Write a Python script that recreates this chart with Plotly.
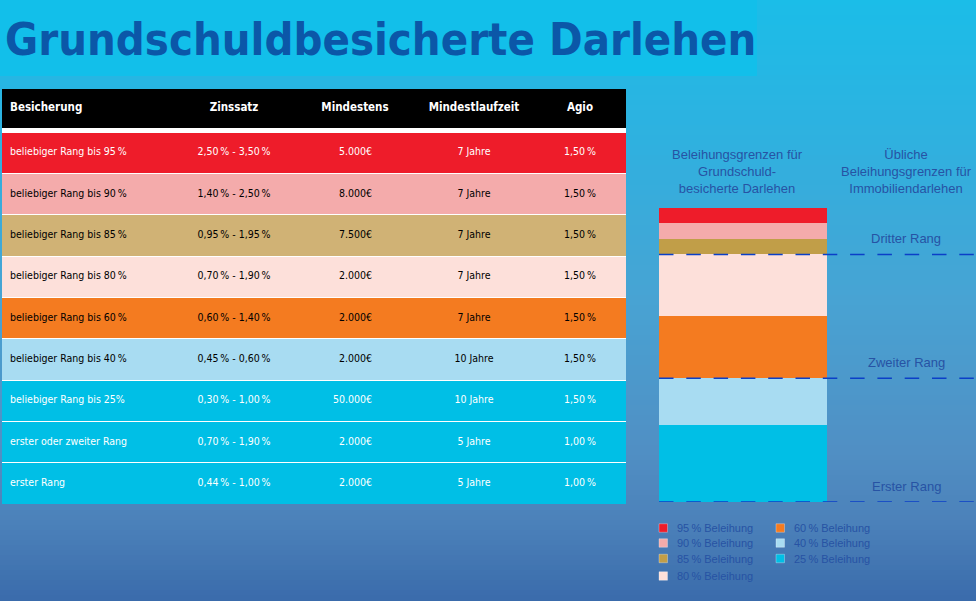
import plotly.graph_objects as go

W, H = 976, 601

# ---------------- data ----------------
title_text = "Grundschuldbesicherte Darlehen"
columns = ["Besicherung", "Zinssatz", "Mindestens", "Mindestlaufzeit", "Agio"]
besicherung = ["beliebiger Rang bis 95\u2009%", "beliebiger Rang bis 90\u2009%", "beliebiger Rang bis 85\u2009%",
               "beliebiger Rang bis 80\u2009%", "beliebiger Rang bis 60\u2009%", "beliebiger Rang bis 40\u2009%",
               "beliebiger Rang bis 25%", "erster oder zweiter Rang", "erster Rang"]
zinssatz = ["2,50\u2009% - 3,50\u2009%", "1,40\u2009% - 2,50\u2009%", "0,95\u2009% - 1,95\u2009%",
            "0,70\u2009% - 1,90\u2009%", "0,60\u2009% - 1,40\u2009%", "0,45\u2009% - 0,60\u2009%",
            "0,30\u2009% - 1,00\u2009%", "0,70\u2009% - 1,90\u2009%", "0,44\u2009% - 1,00\u2009%"]
mindestens = ["5.000€", "8.000€", "7.500€", "2.000€", "2.000€", "2.000€", "50.000€", "2.000€", "2.000€"]
laufzeit = ["7 Jahre", "7 Jahre", "7 Jahre", "7 Jahre", "7 Jahre", "10 Jahre", "10 Jahre", "5 Jahre", "5 Jahre"]
agio = ["1,50\u2009%", "1,50\u2009%", "1,50\u2009%", "1,50\u2009%", "1,50\u2009%", "1,50\u2009%", "1,50\u2009%",
        "1,00\u2009%", "1,00\u2009%"]

beleihung_levels = [25, 40, 60, 80, 85, 90, 95]
legend_labels = ["25\u2009% Beleihung", "40\u2009% Beleihung", "60\u2009% Beleihung", "80\u2009% Beleihung",
                 "85\u2009% Beleihung", "90\u2009% Beleihung", "95\u2009% Beleihung"]
rang_names = ["Erster Rang", "Zweiter Rang", "Dritter Rang"]
rang_starts = [0, 40, 80]
heading_left = "Beleihungsgrenzen für<br>Grundschuld-<br>besicherte Darlehen"
heading_right = "Übliche<br>Beleihungsgrenzen für<br>Immobiliendarlehen"

# ---------------- styles ----------------
row_colors = ["#EE1C2A", "#F4ABAB", "#D0B275", "#FDE0DA", "#F47B20", "#A8DCF2", "#00BFE6", "#00BFE6", "#00BFE6"]
row_text_colors = ["white", "black", "black", "black", "black", "black", "white", "white", "white"]
level_colors = ["#00BFE6", "#A8DCF2", "#F47B20", "#FDE0DA", "#C19E48", "#F4ABAB", "#EE1C2A"]
NARROW = "DejaVu Sans Condensed, Liberation Sans Narrow, Arial Narrow, sans-serif"
TXT = "Liberation Sans, Arial, sans-serif"
BLUE_TXT = "#2753A4"


def px(x):
    return x / W


def py(y):
    return 1 - y / H


fig = go.Figure()
shapes = []
annotations = []

# background gradient
stops = [(0, (27, 189, 232)), (150, (48, 176, 223)), (300, (72, 163, 211)),
         (450, (80, 143, 196)), (520, (76, 130, 186)), (601, (58, 107, 171))]


def bg_color(y):
    for (y0, c0), (y1, c1) in zip(stops[:-1], stops[1:]):
        if y0 <= y <= y1:
            t = (y - y0) / (y1 - y0)
            return "rgb(%d,%d,%d)" % tuple(round(a + (b - a) * t) for a, b in zip(c0, c1))
    return "rgb(%d,%d,%d)" % stops[-1][1]


band = 5
for yb in range(0, H, band):
    shapes.append(dict(type="rect", xref="paper", yref="paper", x0=0, x1=1,
                       y0=py(min(yb + band + 1, H)), y1=py(yb), fillcolor=bg_color(yb + band / 2),
                       line=dict(width=0), layer="below"))

# title box
shapes.append(dict(type="rect", xref="paper", yref="paper", x0=0, x1=px(757), y0=py(76), y1=1,
                   fillcolor="#12BFEA", line=dict(width=0), layer="below"))
annotations.append(dict(text="<b>%s</b>" % title_text, xref="paper", yref="paper", x=px(3), y=py(40),
                        xanchor="left", yanchor="middle", showarrow=False,
                        font=dict(family=NARROW, size=45, color="#0B57A8")))

# ---------------- table (pixel-unit axes) ----------------
T_TOP, HEAD_BOT, ROW_TOP, T_BOT = 89, 128, 132, 504
n = len(besicherung)
pitch = (T_BOT - ROW_TOP) / n
row_centers = [ROW_TOP + pitch * (i + 0.5) for i in range(n)]
head_center = (T_TOP + HEAD_BOT) / 2
T_W = 624

shapes.append(dict(type="rect", xref="x2", yref="y2", x0=0, x1=T_W, y0=HEAD_BOT, y1=T_BOT,
                   fillcolor="white", line=dict(width=0), layer="below"))

fig.add_trace(go.Bar(orientation="h", y=[head_center] + row_centers, x=[T_W] * (n + 1), base=0,
                     width=[HEAD_BOT - T_TOP] + [pitch - 1] * n,
                     marker=dict(color=["black"] + row_colors, line=dict(width=0)),
                     xaxis="x2", yaxis="y2", showlegend=False, hoverinfo="skip"))

col_x = [8, 232, 353, 472, 578]
head_pos = ["middle right", "middle center", "middle center", "middle center", "middle center"]
fig.add_trace(go.Scatter(x=col_x, y=[head_center] * 5, text=["<b>%s</b>" % c for c in columns],
                         mode="text", textposition=head_pos,
                         textfont=dict(family=NARROW, size=11.5, color="white"),
                         xaxis="x2", yaxis="y2", showlegend=False, hoverinfo="skip"))

body_cols = [besicherung, zinssatz, mindestens, laufzeit, agio]
body_x = [8, 232, 370, 472, 578]
body_pos = ["middle right", "middle center", "middle left", "middle center", "middle center"]
for vals, xx, pos in zip(body_cols, body_x, body_pos):
    fig.add_trace(go.Scatter(x=[xx] * n, y=row_centers, text=vals, mode="text", textposition=pos,
                             textfont=dict(family=NARROW, size=10.5, color=row_text_colors),
                             xaxis="x2", yaxis="y2", showlegend=False, hoverinfo="skip"))

# ---------------- stacked bar ----------------
prev = 0
for lvl, lab, col in zip(beleihung_levels, legend_labels, level_colors):
    fig.add_trace(go.Bar(x=["Beleihung"], y=[lvl - prev], name=lab, marker=dict(color=col, line=dict(width=0)),
                         showlegend=False, hoverinfo="skip"))
    prev = lvl

for name, start in zip(rang_names, rang_starts):
    shapes.append(dict(type="line", xref="paper", yref="y", x0=px(659), x1=1, y0=start, y1=start,
                       line=dict(color="#0B3FC8", width=1.5, dash="14.5px,12.8px"), layer="above"))
    annotations.append(dict(text=name, xref="paper", yref="y", x=px(906), y=start + 5,
                            xanchor="center", yanchor="middle", showarrow=False,
                            font=dict(family=TXT, size=13, color=BLUE_TXT)))

annotations.append(dict(text=heading_left, xref="paper", yref="paper", x=px(737), y=py(172),
                        xanchor="center", yanchor="middle", showarrow=False,
                        font=dict(family=TXT, size=13, color=BLUE_TXT)))
annotations.append(dict(text=heading_right, xref="paper", yref="paper", x=px(906), y=py(172),
                        xanchor="center", yanchor="middle", showarrow=False,
                        font=dict(family=TXT, size=13, color=BLUE_TXT)))

# ---------------- legend (two columns) ----------------
leg_rows = [528, 543, 558.5, 576]
order = list(range(len(beleihung_levels)))[::-1]
for k, idx in enumerate(order):
    col, row = (0, k) if k < 4 else (1, k - 4)
    sx = 659 if col == 0 else 776
    yc = leg_rows[row]
    shapes.append(dict(type="rect", xref="paper", yref="paper", x0=px(sx), x1=px(sx + 8.5),
                       y0=py(yc + 4.25), y1=py(yc - 4.25), fillcolor=level_colors[idx],
                       line=dict(width=0.6, color="rgba(255,255,255,0.5)"), layer="above"))
    annotations.append(dict(text=legend_labels[idx], xref="paper", yref="paper", x=px(sx + 16), y=py(yc),
                            xanchor="left", yanchor="middle", showarrow=False,
                            font=dict(family=TXT, size=11, color=BLUE_TXT)))

fig.update_layout(
    width=W, height=H, margin=dict(l=0, r=0, t=0, b=0, pad=0),
    paper_bgcolor="#3F86C4", plot_bgcolor="rgba(0,0,0,0)",
    barmode="stack", bargap=0,
    shapes=shapes, annotations=annotations, showlegend=False,
    xaxis=dict(domain=[px(659), px(827)], visible=False, type="category", fixedrange=True),
    yaxis=dict(domain=[py(502), py(208)], range=[0, 95], visible=False, fixedrange=True),
    xaxis2=dict(domain=[px(2), px(626)], range=[0, T_W], visible=False, anchor="y2", fixedrange=True),
    yaxis2=dict(domain=[py(T_BOT), py(T_TOP)], range=[T_BOT, T_TOP], visible=False, anchor="x2",
                fixedrange=True),
)

fig.write_html("out.html", config={"displayModeBar": False},
               post_script="document.body.style.margin='0';document.body.style.overflow='hidden';")
